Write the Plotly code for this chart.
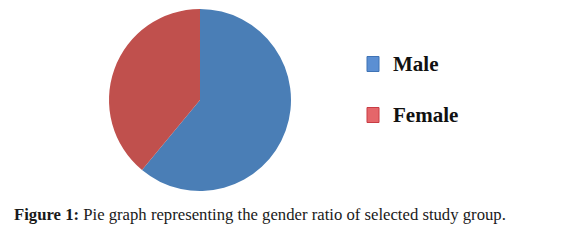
import plotly.graph_objects as go

labels = ["Male", "Female"]
values = [61, 39]
pie_colors = ["#4A7EB6", "#C0504D"]
legend_fill = ["#5B8FD3", "#E5666A"]
legend_line = ["#3F73B5", "#C83C44"]
caption_bold = "Figure 1:"
caption_text = "Pie graph representing the gender ratio of selected study group."

W, H = 569, 245

fig = go.Figure()
fig.add_trace(go.Pie(
    labels=labels, values=values, sort=False, direction="clockwise", rotation=0,
    marker=dict(colors=pie_colors, line=dict(width=0)),
    textinfo="none", hoverinfo="label+percent", showlegend=False,
    domain=dict(x=[109 / W, 291 / W], y=[(H - 191) / H, (H - 9) / H]),
))

legend_y = [64, 115]
for i, lab in enumerate(labels):
    yc = legend_y[i]
    fig.add_shape(type="rect", xref="paper", yref="paper",
                  x0=367 / W, x1=379 / W, y0=(H - (yc + 7.5)) / H, y1=(H - (yc - 7.5)) / H,
                  fillcolor=legend_fill[i], line=dict(color=legend_line[i], width=1))
    fig.add_annotation(text="<b>" + lab + "</b>", xref="paper", yref="paper",
                       x=391 / W, y=(H - yc) / H, xanchor="left", yanchor="middle",
                       showarrow=False, font=dict(family="Liberation Serif", size=21, color="#111111"))

fig.add_annotation(text="<b>" + caption_bold + "</b> " + caption_text, xref="paper", yref="paper",
                   x=12 / W, y=(H - 214.5) / H, xanchor="left", yanchor="middle", showarrow=False,
                   font=dict(family="Liberation Serif", size=16.7, color="#1a1a1a"))

fig.update_layout(width=W, height=H, margin=dict(l=0, r=0, t=0, b=0),
                  paper_bgcolor="white", plot_bgcolor="white")
fig.write_html("out.html")
